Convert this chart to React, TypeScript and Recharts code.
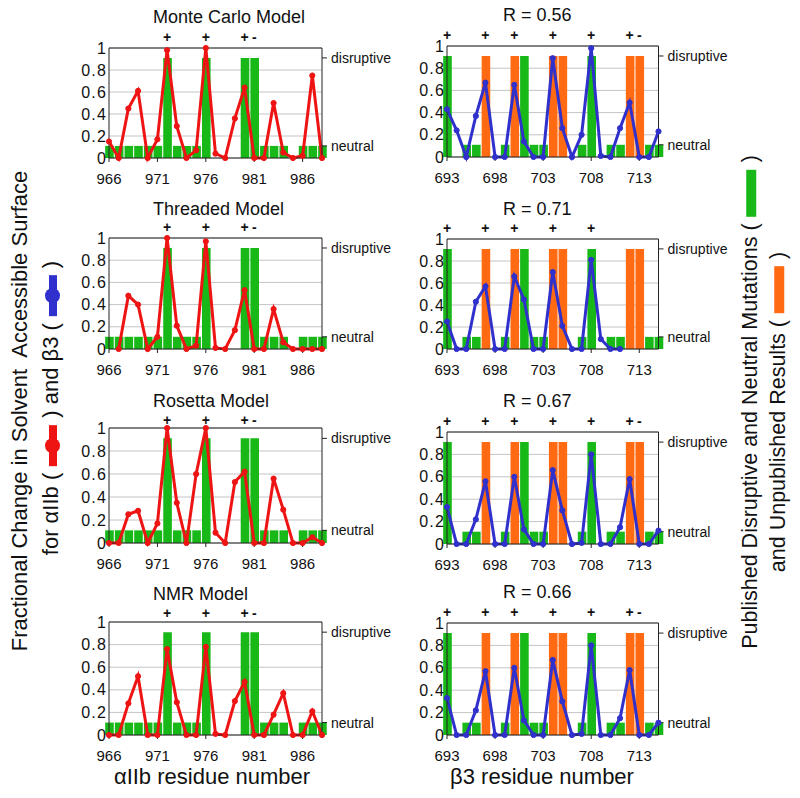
import React from 'react';
import { ComposedChart, Bar, Line, XAxis, YAxis, CartesianGrid } from 'recharts';

// ---------- data ----------
const alphaResidues = [966, 967, 968, 969, 970, 971, 972, 973, 974, 975, 976, 977, 978, 979, 980, 981, 982, 983, 984, 985, 986, 987, 988];
const betaResidues = [693, 694, 695, 696, 697, 698, 699, 700, 701, 702, 703, 704, 705, 706, 707, 708, 709, 710, 711, 712, 713, 714, 715];

const alphaTicks = [966, 971, 976, 981, 986];
const betaTicks = [693, 698, 703, 708, 713];

const yTicks = [0, 0.2, 0.4, 0.6, 0.8, 1];
const refTicks = [0.11, 0.91];
const refLabels = ['neutral', 'disruptive'];

// published (green) and unpublished (orange) mutation bars
const alphaPublished = [0.11, 0.11, 0.11, 0.11, 0.11, 0.11, 0.91, 0.11, 0.11, 0.11, 0.91, null, null, null, 0.91, 0.91, 0.11, 0.11, 0.11, null, 0.11, 0.11, 0.11];
const alphaUnpublished = [null, null, null, null, null, null, null, null, null, null, null, null, null, null, null, null, null, null, null, null, null, null, null];
const betaPublished = [0.91, null, 0.11, 0.11, null, null, 0.11, null, 0.91, 0.11, 0.11, null, null, null, 0.11, 0.91, null, 0.11, 0.11, null, null, 0.11, 0.11];
const betaUnpublished = [null, null, null, null, 0.91, null, null, 0.91, null, null, null, 0.91, 0.91, null, null, null, null, null, null, 0.91, 0.91, null, null];

// fractional change in solvent accessible surface
const alphaMonteCarlo = [0.15, 0, 0.45, 0.61, 0, 0.17, 0.98, 0.29, 0, 0.07, 1.0, 0.04, 0, 0.36, 0.64, 0, 0, 0.5, 0.05, 0, 0.02, 0.75, 0];
const alphaThreaded = [null, 0, 0.48, 0.4, 0, 0.11, 1.0, 0.21, 0, 0.03, 0.97, 0.01, 0, 0.17, 0.53, 0, 0, 0.36, 0.06, 0, 0, 0, 0];
const alphaRosetta = [0, 0, 0.25, 0.28, 0, 0.17, 1.0, 0.35, 0, 0.6, 1.0, 0.09, 0, 0.53, 0.62, 0, 0, 0.56, 0.29, 0, 0, 0.05, 0];
const alphaNMR = [0, 0, 0.28, 0.52, 0, 0, 0.76, 0.29, 0, 0, 0.78, 0.01, 0, 0.3, 0.47, 0, 0, 0.18, 0.37, 0, 0, 0.21, 0];

const betaMonteCarlo = [0.43, 0.24, 0, 0.37, 0.67, 0, 0, 0.65, 0.14, 0, 0, 0.89, 0.26, 0, 0.2, 0.98, 0.01, 0, 0.26, 0.49, 0, 0, 0.23];
const betaThreaded = [0.25, 0, 0, 0.43, 0.57, 0, 0, 0.66, 0.45, 0, 0, 0.7, 0.21, 0, 0, 0.81, 0.09, 0, 0, null, null, null, null];
const betaRosetta = [0.33, 0, 0, 0.22, 0.56, 0, 0, 0.6, 0.13, 0, 0, 0.66, 0.3, 0, 0.01, 0.8, 0, 0, 0.15, 0.58, 0, 0, 0.12];
const betaNMR = [0.33, 0, 0, 0.22, 0.57, 0, 0, 0.6, 0.13, 0, 0, 0.67, 0.3, 0, 0.01, 0.8, 0, 0, 0.15, 0.58, 0, 0, 0.11];

const alphaSignTicks = [972, 976, 980, 981];
const alphaSigns = ['+', '+', '+', '-'];
const betaSignTicks = [693, 697, 700, 704, 708, 712, 713];
const betaSigns = ['+', '+', '+', '+', '+', '+', '-'];
const betaSignTicksThreaded = [693, 697, 700, 704, 708];
const betaSignsThreaded = ['+', '+', '+', '+', '+'];

const modelTitles = ['Monte Carlo Model', 'Threaded Model', 'Rosetta Model', 'NMR Model'];
const rTitles = ['R = 0.56', 'R = 0.71', 'R = 0.67', 'R = 0.66'];

// ---------- styles ----------
const FONT = '"Liberation Sans", Arial, Helvetica, sans-serif';
const RED = '#ee1414';
const BLUE = '#3030cc';
const GREEN = '#18b818';
const ORANGE = '#ff6a12';
const AXIS = '#222';

type PanelProps = {
  residues: number[];
  published: (number | null)[];
  unpublished: (number | null)[];
  values: (number | null)[];
  ticks: number[];
  signTicks: number[];
  signs: string[];
  color: string;
  plotLeft: number;
  plotRight: number;
  plotTop: number;
  plotBottom: number;
  signGap: number;
};

const LEFT_W = 50;
const RIGHT_W = 80;
const TOP_H = 22;
const BOTTOM_H = 34;

function Panel(p: PanelProps) {
  const data = p.residues.map((r, i) => ({
    res: r,
    pub: p.published[i],
    unpub: p.unpublished[i],
    val: p.values[i],
  }));
  const w = p.plotRight - p.plotLeft + LEFT_W + RIGHT_W;
  const h = p.plotBottom - p.plotTop + TOP_H + BOTTOM_H;
  const domain = [p.residues[0], p.residues[p.residues.length - 1]];
  return (
    <div style={{ position: 'absolute', left: p.plotLeft - LEFT_W, top: p.plotTop - TOP_H, width: w, height: h }}>
      <ComposedChart width={w} height={h} data={data} margin={{ top: 0, right: 0, bottom: 0, left: 0 }} style={{ fontFamily: FONT }}>
        <CartesianGrid vertical={false} stroke="#c4c4c4" />
        <XAxis
          dataKey="res"
          type="number"
          domain={domain}
          ticks={p.ticks}
          interval={0}
          height={BOTTOM_H}
          stroke={AXIS}
          tickSize={4}
          tickMargin={11}
          tick={{ fontSize: 15, fill: '#111', fontFamily: FONT }}
        />
        <XAxis
          xAxisId="t"
          dataKey="res"
          orientation="top"
          type="number"
          domain={domain}
          ticks={p.signTicks}
          interval={0}
          height={TOP_H}
          stroke={AXIS}
          tickLine={false}
          tickSize={4}
          tickMargin={p.signGap}
          tickFormatter={(v: number) => p.signs[p.signTicks.indexOf(v)]}
          tick={{ fontSize: 14, fill: '#111', fontFamily: FONT, fontWeight: 'bold' }}
        />
        <YAxis
          type="number"
          domain={[0, 1]}
          ticks={yTicks}
          interval={0}
          width={LEFT_W}
          stroke={AXIS}
          tickLine={false}
          tickSize={0}
          tickMargin={2}
          tick={{ fontSize: 16, fill: '#111', fontFamily: FONT, letterSpacing: 1.2 }}
        />
        <YAxis
          yAxisId="r"
          orientation="right"
          type="number"
          domain={[0, 1]}
          ticks={refTicks}
          interval={0}
          width={RIGHT_W}
          stroke={AXIS}
          tickSize={5}
          tickMargin={4}
          tickFormatter={(v: number) => refLabels[refTicks.indexOf(v)]}
          tick={{ fontSize: 14, fill: '#111', fontFamily: FONT }}
        />
        <Bar dataKey="pub" stackId="m" fill={GREEN} barSize={8.6} isAnimationActive={false} />
        <Bar dataKey="unpub" stackId="m" fill={ORANGE} barSize={8.6} isAnimationActive={false} />
        <Line
          dataKey="val"
          type="linear"
          stroke={p.color}
          strokeWidth={3}
          dot={{ r: 2.6, fill: p.color, stroke: p.color, strokeWidth: 1 }}
          connectNulls={false}
          isAnimationActive={false}
        />
        <Line
          xAxisId="t"
          yAxisId="r"
          dataKey="val"
          stroke="transparent"
          strokeWidth={0}
          dot={false}
          activeDot={false}
          legendType="none"
          isAnimationActive={false}
        />
      </ComposedChart>
    </div>
  );
}

function LineMarker({ color }: { color: string }) {
  return (
    <span style={{ display: 'inline-block', position: 'relative', width: 41, height: 15, verticalAlign: 'middle', margin: '0 7px' }}>
      <span style={{ position: 'absolute', left: 0, right: 0, top: 4, height: 8, background: color }} />
      <span style={{ position: 'absolute', left: 13, top: 0, width: 15, height: 15, borderRadius: '50%', background: color }} />
    </span>
  );
}

function BarMarker({ color }: { color: string }) {
  return <span style={{ display: 'inline-block', width: 47, height: 10, background: color, verticalAlign: 'middle', margin: '0 7px' }} />;
}

function VText({ cx, cy, size, children }: { cx: number; cy: number; size: number; children: React.ReactNode }) {
  return (
    <div
      style={{
        position: 'absolute',
        left: cx,
        top: cy,
        transform: 'translate(-50%, -50%) rotate(-90deg)',
        whiteSpace: 'pre',
        fontSize: size,
        fontFamily: FONT,
        color: '#111',
        lineHeight: 1,
      }}
    >
      {children}
    </div>
  );
}

const leftRows = [
  { top: 48, bottom: 158, values: alphaMonteCarlo, signTicks: alphaSignTicks, signs: alphaSigns, titleY: 17, signGap: 2 },
  { top: 238, bottom: 349, values: alphaThreaded, signTicks: alphaSignTicks, signs: alphaSigns, titleY: 209, signGap: 2 },
  { top: 428, bottom: 543, values: alphaRosetta, signTicks: alphaSignTicks, signs: alphaSigns, titleY: 401, signGap: -1 },
  { top: 622, bottom: 735, values: alphaNMR, signTicks: alphaSignTicks, signs: alphaSigns, titleY: 594, signGap: 0 },
];
const rightRows = [
  { top: 46, bottom: 157, values: betaMonteCarlo, signTicks: betaSignTicks, signs: betaSigns, titleY: 15, signGap: 2 },
  { top: 239, bottom: 349, values: betaThreaded, signTicks: betaSignTicksThreaded, signs: betaSignsThreaded, titleY: 209, signGap: 2 },
  { top: 432, bottom: 544, values: betaRosetta, signTicks: betaSignTicks, signs: betaSigns, titleY: 401, signGap: 2 },
  { top: 623, bottom: 735, values: betaNMR, signTicks: betaSignTicks, signs: betaSigns, titleY: 592, signGap: 2 },
];

export default function App() {
  return (
    <div style={{ position: 'absolute', left: 0, top: 0, width: 800, height: 798, background: '#fff', fontFamily: FONT, overflow: 'hidden' }}>
      {leftRows.map((r, i) => (
        <React.Fragment key={'l' + i}>
          <div style={{ position: 'absolute', left: 153, top: r.titleY - 10, fontSize: 18, lineHeight: '20px', color: '#111', whiteSpace: 'nowrap' }}>
            {modelTitles[i]}
          </div>
          <Panel
            residues={alphaResidues}
            published={alphaPublished}
            unpublished={alphaUnpublished}
            values={r.values}
            ticks={alphaTicks}
            signTicks={r.signTicks}
            signs={r.signs}
            color={RED}
            plotLeft={109}
            plotRight={322}
            plotTop={r.top}
            plotBottom={r.bottom}
            signGap={r.signGap}
          />
        </React.Fragment>
      ))}
      {rightRows.map((r, i) => (
        <React.Fragment key={'r' + i}>
          <div style={{ position: 'absolute', left: 503, top: r.titleY - 10, fontSize: 18, lineHeight: '20px', color: '#111', whiteSpace: 'nowrap' }}>
            {rTitles[i]}
          </div>
          <Panel
            residues={betaResidues}
            published={betaPublished}
            unpublished={betaUnpublished}
            values={r.values}
            ticks={betaTicks}
            signTicks={r.signTicks}
            signs={r.signs}
            color={BLUE}
            plotLeft={447}
            plotRight={658.5}
            plotTop={r.top}
            plotBottom={r.bottom}
            signGap={r.signGap}
          />
        </React.Fragment>
      ))}
      <div style={{ position: 'absolute', left: 212, top: 777, transform: 'translate(-50%, -50%)', fontSize: 22, whiteSpace: 'nowrap', color: '#111' }}>
        αIIb residue number
      </div>
      <div style={{ position: 'absolute', left: 542, top: 777, transform: 'translate(-50%, -50%)', fontSize: 22, whiteSpace: 'nowrap', color: '#111' }}>
        β3 residue number
      </div>
      <VText cx={20} cy={411} size={22}>{'Fractional Change in Solvent  Accessible Surface'}</VText>
      <VText cx={51} cy={408} size={22}>
        {'for αIIb ('}
        <LineMarker color={RED} />
        {') and β3 ('}
        <LineMarker color={BLUE} />
        {')'}
      </VText>
      <VText cx={751} cy={402} size={21.5}>
        {'Published Disruptive and Neutral Mutations ('}
        <BarMarker color={GREEN} />
        {')'}
      </VText>
      <VText cx={779} cy={412} size={21.5}>
        {'and Unpublished Results ('}
        <BarMarker color={ORANGE} />
        {')'}
      </VText>
    </div>
  );
}
